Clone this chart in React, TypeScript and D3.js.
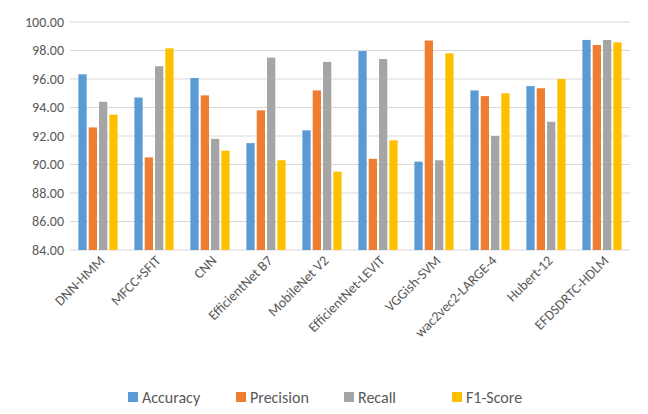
import * as d3 from "d3";

const categories = ["DNN-HMM", "MFCC+SFIT", "CNN", "EfficientNet B7", "MobileNet V2", "EfficientNet-LEVIT", "VGGish-SVM", "wac2vec2-LARGE-4", "Hubert-12", "EFDSDRTC-HDLM"];
const seriesNames = ["Accuracy", "Precision", "Recall", "F1-Score"];
const colors = ["#5b9bd5", "#ed7d31", "#a5a5a5", "#ffc000"];
const accuracy = [96.33, 94.7, 96.07, 91.5, 92.4, 97.96, 90.2, 95.2, 95.5, 98.74];
const precision = [92.6, 90.5, 94.85, 93.8, 95.2, 90.4, 98.7, 94.8, 95.35, 98.39];
const recall = [94.4, 96.9, 91.8, 97.5, 97.2, 97.4, 90.3, 92.0, 93.0, 98.74];
const f1 = [93.5, 98.15, 90.97, 90.3, 89.5, 91.7, 97.8, 95.0, 96.0, 98.57];
const yTicks = [84, 86, 88, 90, 92, 94, 96, 98, 100];

const series = [accuracy, precision, recall, f1];
const W = 648, H = 414;
const left = 70, right = 630, top = 22, bottom = 250;
const font = "Carlito, 'Liberation Sans', sans-serif";

export default function App() {
  const x = d3.scaleBand<string>().domain(categories).range([left, right]).paddingInner(0.3).paddingOuter(0.15);
  const xi = d3.scaleBand<number>().domain([0, 1, 2, 3]).range([0, x.bandwidth()]).paddingInner(0.2);
  const y = d3.scaleLinear().domain([84, 100]).range([bottom, top]);
  const legendW = 108;
  const legendX = W / 2 - (legendW * 4) / 2 + 20;
  return (
    <svg width={W} height={H} style={{ position: "absolute", left: 0, top: 0 }}>
      <rect width={W} height={H} fill="#fff" />
      {yTicks.map((t) => (
        <g key={t}>
          <line x1={left} x2={right} y1={y(t)} y2={y(t)} stroke="#d9d9d9" strokeWidth={1} />
          <text x={left - 6} y={y(t)} dy="0.35em" textAnchor="end" fontSize={14} fontFamily={font} fill="#595959">{t.toFixed(2)}</text>
        </g>
      ))}
      {categories.map((c, i) => (
        <g key={c}>
          {series.map((s, k) => (
            <rect key={k} x={x(c)! + xi(k)!} width={xi.bandwidth()} y={y(s[i])} height={bottom - y(s[i])} fill={colors[k]} />
          ))}
          <text transform={`translate(${x(c)! + x.bandwidth() / 2 + 4},${bottom + 8}) rotate(-45)`} textAnchor="end" dy="0.35em" fontSize={14} fontFamily={font} fill="#595959">{c}</text>
        </g>
      ))}
      {seriesNames.map((n, k) => (
        <g key={n} transform={`translate(${legendX + k * legendW},397)`}>
          <rect x={0} y={-5} width={10} height={10} fill={colors[k]} />
          <text x={14} y={0} dy="0.35em" fontSize={16} fontFamily={font} fill="#595959">{n}</text>
        </g>
      ))}
    </svg>
  );
}
